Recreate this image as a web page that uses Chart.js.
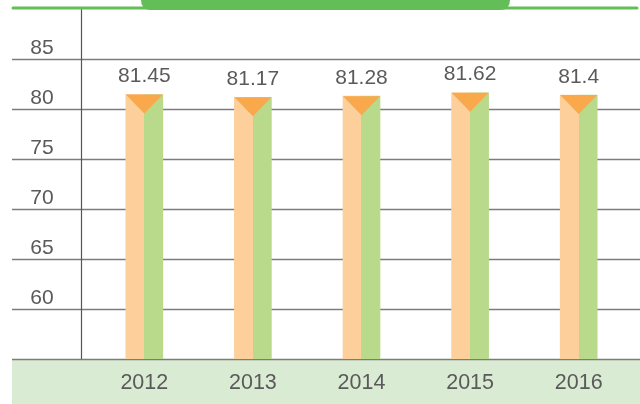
<!DOCTYPE html>
<html>
<head>
<meta charset="utf-8">
<script src="https://cdn.jsdelivr.net/npm/chart.js@4.4.1/dist/chart.umd.min.js"></script>
<style>
  html, body { margin: 0; padding: 0; background: #ffffff; }
  #wrap { width: 640px; height: 404px; }
</style>
</head>
<body>
<div id="wrap"><canvas id="c" width="640" height="404"></canvas></div>
<script>
// Average life expectancy by year
const years = ['2012', '2013', '2014', '2015', '2016'];
const lifeExpectancy = [81.45, 81.17, 81.28, 81.62, 81.4];
const yTickValues = [60, 65, 70, 75, 80, 85];
const yMin = 55;
const yMax = 90;

const COLORS = {
  barLeft: '#FDCF9B',
  barRight: '#B9DA8B',
  cap: '#F9A84C',
  header: '#64BE58',
  band: '#DAEBD4',
  grid: '#7c7c7c',
  axis: '#555555',
  text: '#5a5a5a'
};
const FONT = '"Liberation Sans", Arial, sans-serif';
const BAR_W = 37;

// Split fill: left half orange, right half green
function barFill(context) {
  const chart = context.chart;
  const xs = chart.scales && chart.scales.x;
  if (!chart.chartArea || !xs) return COLORS.barLeft;
  const cx = xs.getPixelForValue(context.dataIndex);
  const g = chart.ctx.createLinearGradient(cx - BAR_W / 2, 0, cx + BAR_W / 2, 0);
  g.addColorStop(0, COLORS.barLeft);
  g.addColorStop(0.5, COLORS.barLeft);
  g.addColorStop(0.5, COLORS.barRight);
  g.addColorStop(1, COLORS.barRight);
  return g;
}

const decor = {
  id: 'decor',
  beforeDraw(chart) {
    const ctx = chart.ctx;
    ctx.save();
    ctx.fillStyle = '#ffffff';
    ctx.fillRect(0, 0, chart.width, chart.height);
    ctx.restore();
  },
  beforeDatasetsDraw(chart) {
    const ctx = chart.ctx;
    const area = chart.chartArea;
    const ys = chart.scales.y;
    const xs = chart.scales.x;
    const leftEdge = 12;
    const rightEdge = chart.width;
    ctx.save();

    // category band under the plot
    ctx.fillStyle = COLORS.band;
    ctx.fillRect(leftEdge, area.bottom, rightEdge - leftEdge, chart.height - area.bottom);

    // horizontal grid lines spanning label column and plot
    ctx.strokeStyle = COLORS.grid;
    ctx.lineWidth = 1.6;
    [yMin].concat(yTickValues).forEach(v => {
      const y = Math.round(ys.getPixelForValue(v)) + 0.5;
      ctx.beginPath();
      ctx.moveTo(leftEdge, y);
      ctx.lineTo(rightEdge, y);
      ctx.stroke();
    });

    // vertical axis line
    ctx.strokeStyle = COLORS.axis;
    ctx.lineWidth = 1.2;
    ctx.beginPath();
    ctx.moveTo(81.5, ys.getPixelForValue(yMax));
    ctx.lineTo(81.5, ys.getPixelForValue(yMin));
    ctx.stroke();

    // header rule and tab
    ctx.fillStyle = COLORS.header;
    const tabL = 141, tabR = 510, tabB = 10, r = 10;
    ctx.beginPath();
    ctx.moveTo(tabL, -1);
    ctx.lineTo(tabR, -1);
    ctx.lineTo(tabR, tabB - r);
    ctx.quadraticCurveTo(tabR, tabB, tabR - r, tabB);
    ctx.lineTo(tabL + r, tabB);
    ctx.quadraticCurveTo(tabL, tabB, tabL, tabB - r);
    ctx.closePath();
    ctx.fill();
    ctx.strokeStyle = COLORS.header;
    ctx.lineWidth = 3;
    ctx.lineCap = 'round';
    ctx.beginPath();
    ctx.moveTo(leftEdge + 1, 8);
    ctx.lineTo(637, 8);
    ctx.stroke();

    // y tick labels, sitting above their lines
    ctx.fillStyle = COLORS.text;
    ctx.font = '21px ' + FONT;
    ctx.textAlign = 'center';
    ctx.textBaseline = 'alphabetic';
    yTickValues.forEach(v => {
      ctx.fillText(String(v), 42, ys.getPixelForValue(v) - 5);
    });

    // year labels in the band
    ctx.font = '21.5px ' + FONT;
    years.forEach((yr, i) => {
      ctx.fillText(yr, xs.getPixelForValue(i), area.bottom + 30);
    });
    ctx.restore();
  },
  afterDatasetsDraw(chart) {
    const ctx = chart.ctx;
    const meta = chart.getDatasetMeta(0);
    ctx.save();
    meta.data.forEach((bar, i) => {
      const cx = bar.x, top = bar.y, half = bar.width / 2;
      // downward cap triangle
      ctx.fillStyle = COLORS.cap;
      ctx.beginPath();
      ctx.moveTo(cx - half, top);
      ctx.lineTo(cx + half, top);
      ctx.lineTo(cx, top + half + 0.5);
      ctx.closePath();
      ctx.fill();
      // value label
      ctx.fillStyle = COLORS.text;
      ctx.font = '21px ' + FONT;
      ctx.textAlign = 'center';
      ctx.textBaseline = 'alphabetic';
      ctx.fillText(String(lifeExpectancy[i]), cx, top - 12.5);
    });
    ctx.restore();
  }
};

new Chart(document.getElementById('c'), {
  type: 'bar',
  data: {
    labels: years,
    datasets: [{
      data: lifeExpectancy,
      backgroundColor: barFill,
      borderWidth: 0,
      barThickness: BAR_W
    }]
  },
  options: {
    responsive: false,
    animation: false,
    events: [],
    layout: { padding: { left: 90, right: 7, top: 9, bottom: 45 } },
    plugins: { legend: { display: false }, tooltip: { enabled: false } },
    scales: {
      x: { display: false, offset: true },
      y: { display: false, min: yMin, max: yMax }
    }
  },
  plugins: [decor]
});
</script>
</body>
</html>
